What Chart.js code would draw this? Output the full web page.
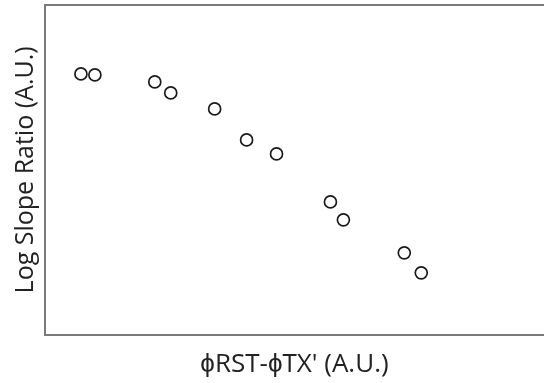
<!DOCTYPE html>
<html>
<head>
<meta charset="utf-8">
<script src="https://cdn.jsdelivr.net/npm/chart.js@4"></script>
<style>
  html, body { margin: 0; padding: 0; background: #fff; }
  #wrap { width: 544px; height: 383px; }
</style>
</head>
<body>
<div id="wrap"><canvas id="scatter"></canvas></div>
<script>
// values (arbitrary units)
var phiDiff = [36, 50, 110, 126, 170, 202, 232, 286, 299, 360, 377];
var logSlopeRatio = [261, 260, 253, 242, 226, 195, 181, 133, 115, 82, 62];
var xTitle = "\u03D5RST-\u03D5TX' (A.U.)";
var yTitle = 'Log Slope Ratio (A.U.)';

var points = phiDiff.map(function (x, i) {
    return { x: x, y: logSlopeRatio[i] };
});

var frame = { display: true, color: '#7a7a7a', width: 2 };
var noGrid = { display: false, drawTicks: false };

var ctx = document.getElementById('scatter').getContext('2d');
var chart = new Chart(ctx, {
    type: 'scatter',
    data: {
        datasets: [{
            data: points,
            pointRadius: 6,
            pointHoverRadius: 6,
            pointBorderWidth: 1.7,
            pointBorderColor: '#1a1a1a',
            pointBackgroundColor: '#fff'
        }]
    },
    options: {
        responsive: true,
        maintainAspectRatio: false,
        animation: false,
        layout: { autoPadding: false, padding: { left: 11, top: 5, right: 0, bottom: 3 } },
        plugins: {
            legend: { display: false },
            tooltip: { enabled: false }
        },
        scales: {
            x: {
                min: 0, max: 500,
                ticks: { display: false },
                grid: noGrid,
                border: frame,
                title: {
                    display: true, text: xTitle, color: '#222',
                    font: { family: "'Open Sans', sans-serif", size: 26 },
                    padding: { top: 14, bottom: 0 }
                }
            },
            xTop: {
                type: 'linear',
                position: 'top',
                min: 0, max: 500,
                ticks: { display: false },
                grid: noGrid,
                border: frame
            },
            y: {
                min: 0, max: 330,
                ticks: { display: false },
                grid: noGrid,
                border: frame,
                title: {
                    display: true, text: yTitle, color: '#222',
                    font: { family: "'Open Sans', sans-serif", size: 25 },
                    padding: { top: 0, bottom: 4 }
                }
            }
        }
    }
});
</script>
</body>
</html>
